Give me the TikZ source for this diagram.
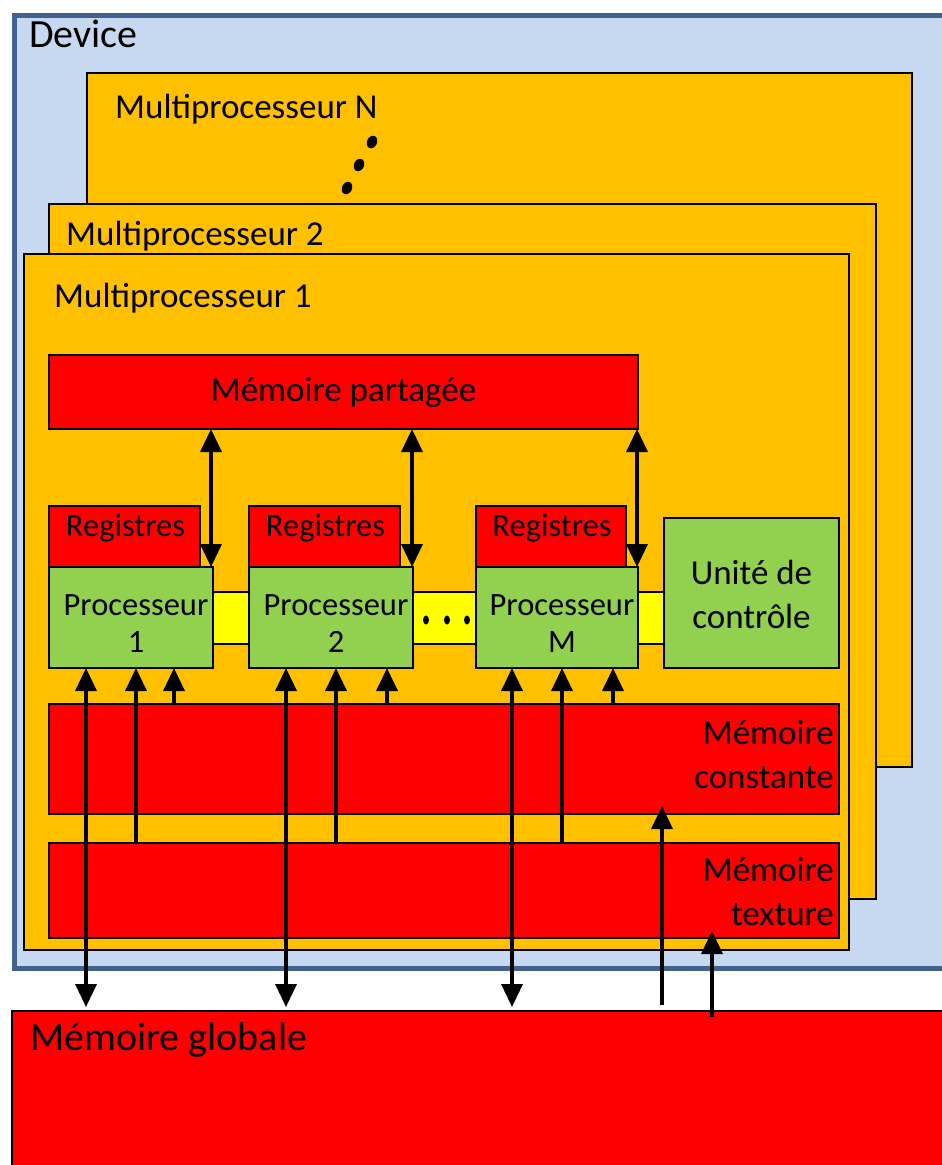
\documentclass[tikz,border=0pt]{standalone}
\usepackage{fontspec}
\setmainfont{Carlito}
\usetikzlibrary{arrows.meta,calc}
\definecolor{devfill}{HTML}{C6D9F1}
\definecolor{devline}{HTML}{41628F}
\definecolor{mporange}{HTML}{FFC000}
\definecolor{memred}{HTML}{FF0000}
\definecolor{procgreen}{HTML}{92D050}
\definecolor{busyellow}{HTML}{FFFF00}
\begin{document}
\begin{tikzpicture}[x=1pt,y=-1pt,
  box/.style={draw=black,line width=2.5pt,anchor=north west,inner sep=0pt,outer sep=0pt},
  mp/.style={box,fill=mporange},
  mem/.style={box,fill=memred},
  proc/.style={box,fill=procgreen},
  txt/.style={font=\fontsize{35}{44}\selectfont,inner sep=0pt},
  smalltxt/.style={font=\fontsize{32.5}{37}\selectfont,inner sep=0pt,align=center},
  bigtxt/.style={font=\fontsize{40}{48}\selectfont,inner sep=0pt},
  tip/.tip={Triangle[width=21pt,length=23pt]},
  dbl/.style={tip-tip,line width=3.5pt},
  up/.style={-tip,line width=3.5pt},
  dot/.style={fill=black,draw=none}]
\clip (0,0) rectangle (942,1165);
\fill[white] (0,0) rectangle (942,1165);
% Device
\node[box,draw=devline,line width=5pt,fill=devfill,minimum width=960pt,minimum height=953pt] (dev) at (14,15) {};
\node[bigtxt,anchor=base west] (devlbl) at (29,47) {Device};
% Multiprocessors
\node[mp,minimum width=825pt,minimum height=694pt] (mpN) at (87,73) {};
\node[txt,anchor=base west] (mpNlbl) at (115,118) {Multiprocesseur N};
\fill[dot,rotate around={-25:(372,142)}] (372,142) ellipse [x radius=5pt,y radius=6.5pt];
\fill[dot,rotate around={-25:(359,165)}] (359,165) ellipse [x radius=5pt,y radius=6.5pt];
\fill[dot,rotate around={-25:(347,188)}] (347,188) ellipse [x radius=5pt,y radius=6.5pt];
\node[mp,minimum width=827pt,minimum height=695pt] (mp2) at (49,204) {};
\node[txt,anchor=base west] (mp2lbl) at (66,245) {Multiprocesseur 2};
\node[mp,minimum width=825pt,minimum height=696pt] (mp1) at (24,254) {};
\node[txt,anchor=base west] (mp1lbl) at (54,307) {Multiprocesseur 1};
% Shared memory
\node[mem,minimum width=589pt,minimum height=74pt,font=\fontsize{35}{44}\selectfont] (shm) at (49,355) {M\'emoire partag\'ee};
% Bus
\node[box,fill=busyellow,minimum width=560pt,minimum height=52pt] (bus) at (160,592) {};
% Registers
\node[mem,minimum width=151pt,minimum height=61pt] (r1) at (49,506) {};
\node[mem,minimum width=151pt,minimum height=61pt] (r2) at (249,506) {};
\node[mem,minimum width=150pt,minimum height=61pt] (r3) at (476,506) {};
\node[smalltxt] (r1lbl) at ($(r1.center)+(1,-8)$) {Registres};
\node[smalltxt] (r2lbl) at ($(r2.center)+(1,-8)$) {Registres};
\node[smalltxt] (r3lbl) at ($(r3.center)+(1,-8)$) {Registres};
% Processors
\node[proc,minimum width=164pt,minimum height=101pt] (p1) at (49,567) {};
\node[proc,minimum width=164pt,minimum height=101pt] (p2) at (249,567) {};
\node[proc,minimum width=162pt,minimum height=101pt] (pm) at (476,567) {};
\node[smalltxt] (p1lbl) at ($(p1.center)+(5,6)$) {Processeur\\1};
\node[smalltxt] (p2lbl) at ($(p2.center)+(5,6)$) {Processeur\\2};
\node[smalltxt] (pmlbl) at ($(pm.center)+(5,6)$) {Processeur\\M};
\node[proc,minimum width=175pt,minimum height=150pt] (uc) at (664,518) {};
\node[txt,align=center] (uclbl) at ($(uc.center)+(0,1)$) {Unit\'e de\\contr\^ole};
\fill[dot] (426,620) ellipse [x radius=3pt,y radius=4.5pt];
\fill[dot] (447,620) ellipse [x radius=3pt,y radius=4.5pt];
\fill[dot] (467,620) ellipse [x radius=3pt,y radius=4.5pt];
% Constant and texture memories
\node[mem,minimum width=790pt,minimum height=110pt] (cm) at (49,704) {};
\node[txt,anchor=east,align=right] (cmlbl) at (834,755) {M\'emoire\\constante};
\node[mem,minimum width=790pt,minimum height=95pt] (tm) at (49,843) {};
\node[txt,anchor=east,align=right] (tmlbl) at (834,892) {M\'emoire\\texture};
% Global memory
\node[mem,minimum width=960pt,minimum height=200pt] (gm) at (12,1011) {};
\node[bigtxt,anchor=base west] (gmlbl) at (30,1050) {M\'emoire globale};
% Shared memory <-> processors
\draw[dbl] ($(shm.south west)+(162,0)$) -- ($(p1.north west)+(162,0)$);
\draw[dbl] ($(shm.south west)+(363,0)$) -- ($(p2.north west)+(163,0)$);
\draw[dbl] ($(shm.south west)+(588,0)$) -- ($(pm.north west)+(161,0)$);
% Processors <-> global memory
\coordinate (g1) at ($(gm.north west)+(74,-4)$);
\coordinate (g2) at ($(gm.north west)+(274,-4)$);
\coordinate (g3) at ($(gm.north west)+(500,-4)$);
\draw[dbl] ($(p1.south west)+(37,0)$) -- (g1);
\draw[dbl] ($(p2.south west)+(37,0)$) -- (g2);
\draw[dbl] ($(pm.south west)+(36,0)$) -- (g3);
% Texture -> processors
\draw[up] ($(tm.north west)+(87,0)$) -- ($(p1.south west)+(87,0)$);
\draw[up] ($(tm.north west)+(287,0)$) -- ($(p2.south west)+(87,0)$);
\draw[up] ($(tm.north west)+(513,0)$) -- ($(pm.south west)+(86,0)$);
% Constant -> processors
\draw[up] ($(cm.north west)+(125,0)$) -- ($(p1.south west)+(125,0)$);
\draw[up] ($(cm.north west)+(338,0)$) -- ($(p2.south west)+(138,0)$);
\draw[up] ($(cm.north west)+(564,0)$) -- ($(pm.south west)+(137,0)$);
% Global -> constant / texture
\coordinate (gc) at ($(gm.north west)+(650,-6)$);
\coordinate (gt) at ($(gm.north west)+(700,6)$);
\draw[up] (gc) -- ($(cm.south west)+(613,-8)$);
\draw[up] (gt) -- ($(tm.south west)+(663,-7)$);
\end{tikzpicture}
\end{document}
